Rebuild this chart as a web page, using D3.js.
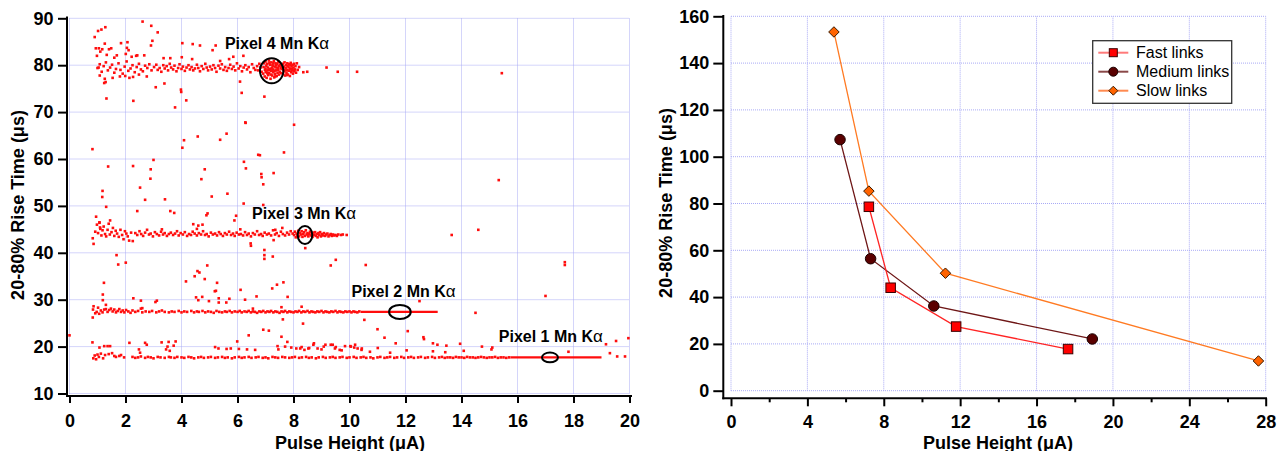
<!DOCTYPE html>
<html><head><meta charset="utf-8">
<script src="https://cdn.jsdelivr.net/npm/d3@7"></script>
<style>body{margin:0;background:#fff} svg{display:block} text{font-family:Arial,"Liberation Sans",sans-serif}</style>
</head><body><svg id="c" width="1278" height="451"></svg>
<script>
// ---------------- LEFT PANEL DATA (pulse height µA, rise time µs) ----------------
const leftXTicks = [0,2,4,6,8,10,12,14,16,18,20];
const leftYTicks = [10,20,30,40,50,60,70,80,90];

const pixel4Core = [[6.92,78.2],[6.93,79.6],[6.95,80.4],[6.97,77.6],[6.98,79.0],[7.0,80.8],[7.01,78.6],[7.03,79.9],[7.04,77.3],[7.06,80.3],[7.07,78.9],[7.09,79.5],[7.1,77.9],[7.12,81.0],[7.13,78.3],[7.15,79.2],[7.16,80.1],[7.18,77.1],[7.19,78.8],[7.21,80.6],[7.22,79.4],[7.24,77.8],[7.25,80.0],[7.27,78.5],[7.28,79.1],[7.3,80.9],[7.31,77.4],[7.33,79.7],[7.34,78.1],[7.36,80.4],[7.37,78.9],[7.39,79.5],[7.4,77.7],[7.42,80.2],[7.43,78.4],[7.45,79.0],[7.46,80.7],[7.48,78.0],[7.49,79.8],[7.51,78.6],[7.52,80.1],[7.54,79.3],[7.0,79.3],[7.08,78.1],[7.14,80.5],[7.2,78.0],[7.26,79.8],[7.32,78.7],[7.38,80.0],[7.44,79.4],[7.12,79.0],[7.28,80.4],[7.35,77.6],[7.05,78.4],[7.23,78.9],
[7.6,79.2],[7.62,80.3],[7.63,78.1],[7.65,79.7],[7.67,78.7],[7.68,80.6],[7.7,77.8],[7.72,79.4],[7.73,80.0],[7.75,78.4],[7.77,79.0],[7.78,80.4],[7.8,78.0],[7.82,79.6],[7.83,78.8],[7.85,80.2],[7.87,77.7],[7.88,79.3],[7.9,80.5],[7.92,78.5],[7.93,79.9],[7.95,78.9],[7.97,80.1],[7.98,78.2],[8.0,79.5],[8.02,80.3],[8.03,78.7],[8.05,79.1],[8.07,79.8],[8.09,78.4],[7.64,79.0],[7.71,78.9],[7.79,79.9],[7.86,79.0],[7.94,79.3],[8.01,78.9],[7.76,77.9],[7.89,80.0],[7.57,79.6],[7.56,78.3]];

const pixel4Band = [[1.0,79.4],[1.08,80.2],[1.15,78.6],[1.22,79.8],[1.3,80.6],[1.37,78.9],[1.45,79.5],[1.52,80.1],[1.6,78.4],[1.66,79.2],[1.75,80.4],[1.82,79.0],[1.9,78.2],[1.97,79.7],[2.04,80.8],[2.1,78.8],[2.18,79.3],[2.25,80.0],[2.33,78.5],[2.4,79.6],[2.48,80.3],[2.55,79.1],[2.62,78.7],[2.7,79.9],[2.78,79.4],[2.85,80.2],[2.93,78.9],
[3.02,79.6],[3.1,80.1],[3.15,79.0],[3.22,79.4],[3.28,78.6],[3.35,80.0],[3.4,79.3],[3.47,79.8],[3.52,78.9],[3.58,80.3],[3.63,79.5],[3.7,79.1],[3.75,79.9],[3.82,78.7],[3.88,79.4],[3.93,80.2],[4.0,79.2],[4.05,79.7],[4.12,78.8],[4.18,79.5],[4.25,80.0],[4.3,79.1],[4.36,79.6],[4.42,78.9],[4.48,79.3],[4.55,80.1],[4.6,79.4],[4.66,78.7],[4.72,79.8],[4.78,79.2],[4.85,80.3],[4.9,79.5],[4.95,78.9],[5.02,79.7],[5.08,79.1],[5.14,80.0],[5.2,79.4],[5.25,78.6],[5.32,79.9],[5.38,79.3],[5.44,80.2],[5.5,79.0],[5.56,79.6],[5.62,78.8],[5.68,79.4],[5.74,80.1],[5.8,79.2],[5.86,79.7],[5.92,78.9],[5.98,80.4],[6.04,79.3],[6.1,79.8],[6.16,78.7],[6.22,79.5],[6.28,80.0],[6.34,79.1],[6.4,79.6],[6.46,78.5],[6.52,80.2],[6.58,79.4],[6.64,79.0],[6.7,79.8],[6.74,78.9],[6.78,80.3],[6.82,79.5],[6.86,78.6],
[8.12,80.4],[8.15,79.0],[8.2,79.6],[8.35,78.5],[8.49,78.6],[9.18,79.5],[9.58,78.6],[10.27,78.6],[15.44,78.3]];

const pixel4Spread = [[2.61,89.3],[2.92,88.4],[3.15,87.0],[2.96,85.2],[2.91,84.2],[1.28,88.1],[1.14,87.6],[1.02,87.3],[0.9,86.0],[0.94,83.6],[1.05,83.6],[1.17,83.4],[1.41,83.4],[1.49,83.6],[1.26,84.6],[1.84,84.7],[2.07,84.9],[2.05,83.7],[2.11,83.2],[1.69,82.1],[1.33,82.2],[1.1,82.9],[0.98,82.0],[1.6,81.6],[2.01,82.4],[2.22,81.8],[2.38,82.0],[2.42,82.1],[2.67,82.1],[4.03,84.7],[4.4,84.5],[4.66,84.2],[5.22,84.2],[5.11,83.2],[4.01,81.7],[3.36,81.5],[3.6,81.5],[4.38,81.3],[5.38,80.9],[5.7,81.3],[6.21,82.0],[5.85,81.8],
[1.26,77.1],[1.29,76.4],[1.24,76.2],[1.08,77.8],[1.04,79.5],[1.54,77.3],[1.8,77.6],[1.99,77.7],[2.14,77.3],[2.27,77.5],[2.48,78.0],[2.76,77.6],[3.08,75.3],[3.39,76.1],[3.98,74.8],[6.09,76.5],[6.15,74.1],[6.96,73.3],[1.32,72.9],[2.28,72.4],[3.77,71.0],[4.17,72.5],[3.99,74.3],[6.29,67.7],[8.02,67.3]];

const pixel3Band = [[0.83,43.1],[0.86,41.9],[0.92,44.5],[0.98,46.0],[1.02,44.2],[1.07,46.4],[1.1,45.1],[1.14,43.7],[1.18,44.8],[1.22,45.6],[1.27,44.0],[1.31,43.5],[1.36,44.9],[1.4,46.2],[1.44,43.9],[1.5,44.4],[1.55,45.3],[1.6,43.6],[1.65,44.7],[1.7,44.1],[1.76,43.4],[1.82,44.9],[1.88,43.8],[1.93,42.9],[1.98,44.6],[2.03,44.1],[2.08,43.5],[2.13,42.6],[2.2,44.3],[2.26,42.5],
[2.35,44.2],[2.42,43.8],[2.5,44.6],[2.56,44.0],[2.63,43.6],[2.7,44.3],[2.77,44.9],[2.84,43.9],[2.9,44.1],[2.98,43.5],[3.05,44.4],[3.12,44.0],[3.2,43.7],[3.27,44.5],[3.34,43.9],[3.4,44.2],[3.48,43.6],[3.55,44.0],[3.62,44.3],[3.7,43.8],[3.77,44.1],[3.84,44.6],[3.9,43.7],[3.97,44.2],[4.05,43.9],[4.12,44.4],[4.2,43.6],[4.27,44.0],[4.34,43.8],[4.4,44.5],[4.47,44.1],[4.55,43.7],[4.62,44.2],[4.7,43.9],[4.77,44.6],[4.84,43.8],[4.9,44.0],[4.97,43.5],[5.05,44.3],[5.12,43.9],[5.2,44.1],[5.27,43.7],[5.34,44.4],[5.4,44.0],[5.48,43.6],[5.55,44.2],[5.62,43.9],[5.7,44.5],[5.77,43.8],[5.84,44.1],[5.9,43.6],[5.97,44.3],[6.05,43.9],[6.12,44.0],[6.2,43.7],[6.27,44.4],[6.34,43.8],[6.4,44.1],[6.48,43.5],[6.55,44.2],[6.62,43.9],[6.7,44.6],[6.77,43.8],[6.84,44.0],[6.9,43.6],[6.97,44.3],[7.05,43.9],[7.12,44.1],[7.2,43.7],[7.27,44.8],[7.34,43.9],[7.4,44.2],[7.48,43.6],[7.55,44.5],[7.62,44.0],[7.7,43.7],[7.77,44.3],[7.84,43.9],[7.9,44.6],[7.97,44.1],[3.3,45.0],[4.55,45.1],[6.1,45.0],[7.35,44.9],[7.6,45.3],
[8.02,43.8],[8.05,44.5],[8.08,43.3],[8.11,44.1],[8.14,43.7],[8.17,44.7],[8.2,43.5],[8.23,44.2],[8.26,43.9],[8.29,44.6],[8.32,43.4],[8.35,44.0],[8.38,44.4],[8.41,43.6],[8.44,44.8],[8.47,43.9],[8.5,44.2],[8.53,43.5],[8.56,44.0],[8.59,44.5],[8.62,43.7],[8.65,44.1],[8.68,43.4],[8.71,44.3],[8.74,43.8],[8.77,44.4],[8.8,43.6],[8.83,44.0],[8.86,43.3],[8.89,44.2],[8.92,43.8],[8.95,44.4],[8.98,43.5],[9.01,44.0],[9.05,43.7],[9.09,44.2],[9.13,43.6],[9.17,43.9],[9.21,44.1],[9.25,43.5],[9.29,43.8],[9.33,44.0],[9.37,43.6],[9.41,43.9],[9.45,43.7],[9.5,43.8],[9.55,43.6],[9.6,43.9],[9.7,43.8],[9.76,43.9],[9.9,43.8],[8.42,41.0]];

const pixel2Band = [[0.84,27.9],[0.86,28.6],[0.92,27.1],[0.97,27.4],[1.02,28.3],[1.06,27.0],[1.12,27.7],[1.18,27.3],[1.24,27.9],[1.3,28.0],[1.36,27.4],[1.42,27.8],[1.48,28.1],[1.54,27.5],[1.6,27.9],[1.66,27.3],[1.72,27.6],[1.78,28.0],[1.84,27.4],[1.9,27.7],[1.96,27.3],[2.02,27.8],[2.1,27.5],[2.18,27.2],[2.25,27.7],[1.3,28.9],
[2.35,27.4],[2.45,27.6],[2.55,28.1],[2.6,27.3],[2.72,27.5],[2.85,27.4],[2.95,27.6],[3.1,27.3],[3.2,27.5],[3.3,27.7],[3.4,27.4],[3.55,27.3],[3.65,27.5],[3.75,27.4],[3.9,27.6],[4.0,27.3],[4.1,27.5],[4.2,27.4],[4.35,27.6],[4.45,27.3],[4.55,27.5],[4.62,27.4],[4.75,27.6],[4.85,27.3],[4.95,27.5],[5.05,27.4],[5.15,27.2],[5.25,27.6],[5.35,27.4],[5.45,27.3],[5.55,27.5],[5.62,27.4],[5.72,27.6],[5.8,27.3],[5.9,27.5],[6.0,27.4],[6.08,27.6],[6.15,27.3],[6.25,27.5],[6.33,27.4],[6.4,27.6],[6.48,27.3],[6.55,27.5],[6.62,27.4],[6.7,27.2],[6.78,27.5],[6.85,27.4],[6.92,27.6],[7.0,27.3],[7.07,27.5],[7.14,27.4],[7.2,27.6],[7.28,27.3],[7.35,27.5],[7.42,27.4],[7.5,27.2],[7.57,27.5],[7.64,27.4],[7.7,27.6],[7.78,27.3],[7.85,27.5],[7.92,27.4],[8.0,27.3],[8.07,27.5],[8.14,27.4],[8.2,27.6],[8.28,27.3],[8.35,27.5],[8.42,27.4],[8.5,27.6],[8.57,27.3],[8.64,27.5],[8.7,27.4],[8.78,27.3],[8.85,27.5],[8.92,27.4],[9.0,27.6],[9.07,27.3],[9.14,27.5],[9.2,27.4],[9.28,27.3],[9.35,27.5],[9.42,27.4],[9.5,27.6],[9.57,27.3],[9.64,27.5],[9.7,27.4],[9.78,27.3],[9.85,27.5],[9.92,27.4],[10.0,27.5],[10.07,27.3],[10.14,27.5],[10.2,27.4],[10.28,27.3],[10.35,27.5],[2.6,28.2],[6.55,28.1],[7.57,28.4],[8.29,28.5]];

const pixel1Band = [[0.85,17.5],[0.9,18.1],[0.95,17.3],[1.0,18.3],[1.05,17.8],[1.12,18.5],[1.2,17.5],[1.27,18.2],[1.4,18.4],[1.52,18.6],[1.6,18.0],[1.66,17.8],[1.78,18.0],[1.84,18.2],[1.95,17.7],
[2.25,17.8],[2.35,17.6],[2.45,17.7],[2.55,17.9],[2.7,17.6],[2.8,17.8],[2.9,17.7],[3.0,17.5],[3.15,17.8],[3.25,17.7],[3.4,17.6],[3.55,17.8],[3.62,17.7],[3.75,17.6],[3.85,17.8],[4.0,17.7],[4.1,17.6],[4.25,17.8],[4.35,17.7],[4.45,17.5],[4.6,17.7],[4.7,17.8],[4.8,17.6],[4.95,17.7],[5.05,17.8],[5.2,17.6],[5.3,17.7],[5.45,17.8],[5.55,17.6],[5.65,17.7],[5.8,17.5],[5.9,17.7],[6.05,17.8],[6.15,17.6],[6.25,17.7],[6.4,17.8],[6.5,17.6],[6.65,17.7],[6.75,17.8],[6.9,17.6],[7.0,17.7],[7.1,17.5],[7.25,17.8],[7.35,17.7],[7.45,17.6],[7.6,17.8],[7.7,17.7],[7.85,17.6],[7.95,17.7],[8.05,17.8],[8.2,17.6],[8.3,17.7],[8.45,17.8],[8.55,17.6],[8.65,17.7],[8.8,17.5],[8.9,17.7],[9.05,17.8],[9.15,17.6],[9.3,17.7],[9.4,17.8],[9.5,17.6],[9.65,17.7],[9.75,17.8],[9.9,17.6],[10.0,17.7],[10.15,17.8],[10.25,17.6],[10.4,17.7],[10.5,17.8],[10.6,17.6],[10.75,17.7],[10.85,17.5],[11.0,17.7],[11.1,17.8],[11.25,17.6],[11.35,17.7],[11.45,17.8],[11.6,17.6],[11.7,17.7],[11.85,17.8],[11.95,17.6],[12.1,17.7],[12.2,17.8],[12.3,17.6],[12.45,17.7],[12.55,17.8],[12.7,17.6],[12.8,17.7],[12.95,17.8],[13.05,17.6],[13.2,17.7],[13.3,17.8],[13.4,17.6],[13.5,17.7],[13.6,17.7],[13.7,17.6],[13.8,17.8],[13.9,17.7],[14.0,17.7],[14.1,17.6],[14.2,17.8],[14.3,17.7],[14.4,17.7],[14.5,17.6],[14.6,17.7],[14.7,17.8],[14.8,17.7],[14.9,17.6],[15.0,17.7],[15.1,17.7],[15.2,17.8],[15.3,17.6],[15.4,17.7],[15.5,17.7],[15.6,17.6],[15.7,17.7]];

const pixel1Upper = [[0.82,20.9],[1.07,19.8],[1.24,20.1],[1.36,20.1],[1.45,20.1],[2.14,20.8],[2.7,20.8],[2.76,20.4],[2.48,19.4],[2.52,18.7],[3.29,20.9],[3.54,21.0],[3.79,21.1],[3.5,20.0],[3.72,20.2],[3.45,19.4],[3.58,19.1],[5.2,19.9],[5.32,19.6],[5.61,19.5],[5.76,19.6],[6.05,19.5],[5.99,21.1],[6.34,19.4],[6.63,19.3],[7.43,20.1],[7.46,19.4],[7.7,20.0],[7.78,21.0],[7.92,19.8],[8.1,19.6],[8.24,19.6],[8.39,19.3],[8.53,19.6],[8.71,20.4],[8.86,19.6],[9.0,19.4],[9.14,20.4],[9.33,20.4],[9.48,19.6],[9.65,19.3],[9.84,20.1],[10.05,20.0],[10.2,20.4],[10.29,19.6],[10.43,19.3],
[8.29,19.9],[8.56,19.7],[8.73,20.7],[9.08,20.0],[9.4,20.4],[9.51,19.9],[9.72,19.2],[10.03,20.1],[10.17,19.8],[10.44,19.6],[10.73,18.9],[11.01,19.7],[11.45,18.7],[12.04,19.2],[12.98,19.0],[13.42,18.8],[14.08,19.1],[14.73,20.0],[15.07,19.4],[15.1,19.8],[17.82,18.9],[19.3,18.6],[19.56,17.9],[19.84,17.9]];

const strayEvents = [[0.0,22.4],[0.83,26.2],[1.23,33.6],[1.19,31.1],[1.19,29.9],[1.68,39.5],[1.74,37.5],[2.01,37.9],[2.28,30.3],[2.55,29.8],[3.07,29.5],[3.12,29.8],[4.16,33.9],[4.47,35.0],[4.57,36.1],[4.64,35.8],[4.92,37.3],[4.83,34.4],[5.27,33.6],[5.19,31.8],[5.23,31.9],[5.33,30.3],[5.33,29.4],[4.74,30.6],[4.52,30.5],[4.6,29.9],[4.98,29.7],[5.71,30.2],[5.6,29.4],[6.11,32.1],[6.27,30.0],[6.68,30.7],[6.47,42.0],[6.48,41.5],[6.96,40.6],[6.96,39.5],[6.96,38.7],[7.26,39.2],[7.29,42.7],[7.64,33.7],[7.41,33.2],[7.24,32.4],[7.79,30.6],[7.12,23.4],[6.92,23.6],[6.4,22.4],[7.62,25.8],[7.57,22.1],[8.34,24.9],[9.33,37.3],[9.51,38.5],[10.58,37.4],[13.65,43.8],[14.6,44.9],[17.69,38.0],[17.69,37.4],[17.0,30.8],[14.5,27.2],[12.5,29.7],[10.53,25.7],[11.0,23.7],[11.25,21.9],[11.65,20.7],[12.08,23.3],[12.64,22.0],[12.66,21.6],[12.98,20.7],[13.14,20.4],[13.46,20.2],[13.95,20.6],[15.33,55.5],[19.16,20.5],[19.52,21.2],[19.96,21.8],
[2.42,48.9],[3.6,48.9],[3.74,48.5],[4.93,48.4],[4.89,48.0],[5.95,47.9],[5.89,46.9],[4.42,46.1],[4.6,45.8],[4.75,46.0],[0.95,47.7],[1.07,46.5],[1.09,45.4],[1.45,46.9],
[0.82,62.1],[6.28,67.8],[4.09,64.0],[4.03,62.4],[4.58,64.8],[5.38,64.1],[5.61,65.4],[6.74,60.9],[6.8,60.8],[7.66,61.4],[3.0,59.8],[1.38,58.4],[2.27,58.5],[2.9,57.8],[2.89,55.8],[2.52,53.9],[2.7,51.3],[1.18,53.2],[1.17,51.9],[1.31,49.8],[3.41,51.4],[4.83,57.8],[4.71,55.7],[5.08,52.0],[5.64,52.6],[6.22,50.5],[6.23,59.4],[6.3,58.0],[6.85,56.8],[6.86,56.1],[6.92,54.6],[7.29,57.0],[6.92,50.2]];

// saturated runs where the dots merge into a solid line: [xStart, xEnd, y]
const denseRuns = [[10.4,13.15,27.4],[15.75,19.0,17.7]];

// circled Mn Kα peaks and their labels
const peakNames = ["Pixel 4 Mn K", "Pixel 3 Mn K", "Pixel 2 Mn K", "Pixel 1 Mn K"];
const peakX = [7.22, 8.41, 11.80, 17.16];
const peakY = [78.8, 43.8, 27.4, 17.7];
const labelX = [7.41, 8.38, 11.93, 17.19];
const labelY = [83.4, 47.2, 30.6, 20.9];

// ---------------- RIGHT PANEL DATA ----------------
const rightXTicks = [0,4,8,12,16,20,24,28];
const rightXMinor = [2,6,10,14,18,22,26];
const rightYTicks = [0,20,40,60,80,100,120,140,160];
const seriesNames = ["Fast links","Medium links","Slow links"];
const fastX = [7.22, 8.36, 11.79, 17.65];
const fastY = [78.6, 44.0, 27.4, 17.8];
const mediumX = [5.71, 7.31, 10.62, 18.92];
const mediumY = [107.3, 56.4, 36.2, 22.1];
const slowX = [5.39, 7.22, 11.23, 27.62];
const slowY = [153.3, 85.3, 50.2, 12.7];

// ---------------- DRAWING ----------------
const svg = d3.select("#c");
const FONT = 'Arial, "Liberation Sans", sans-serif';
const gridColor = "#a9aaf5";
const TICKFS = 18;

function grid(g, xs, ys, xt, yt) {
  const [x0, x1] = [xs(xt[0]), xs(xt[xt.length-1])];
  const [y0, y1] = [ys(yt[0]), ys(yt[yt.length-1])];
  g.selectAll(".gv").data(xt).join("line")
    .attr("x1", d => xs(d)).attr("x2", d => xs(d)).attr("y1", y0).attr("y2", y1);
  g.selectAll(".gh").data(yt).join("line").attr("class","gh")
    .attr("y1", d => ys(d)).attr("y2", d => ys(d)).attr("x1", x0).attr("x2", x1);
  g.selectAll("line").attr("stroke", gridColor).attr("stroke-width", 1).attr("stroke-dasharray", "1,1");
}
function styleAxis(g) {
  g.attr("font-family", FONT).attr("font-size", TICKFS).attr("font-weight", "bold");
  g.select(".domain").remove();
  g.selectAll(".tick line").attr("stroke", "#000").attr("stroke-width", 2);
  g.selectAll(".tick text").attr("fill", "#000");
}

// ===== Left panel =====
const xL = d3.scaleLinear().domain([0,20]).range([69.5, 629.5]);
const yL = d3.scaleLinear().domain([10,90]).range([393.5, 18.3]);
const left = svg.append("g");
grid(left.append("g").attr("class","grid"), xL, yL, leftXTicks, leftYTicks);

const events = [].concat(pixel4Spread, pixel4Band, pixel4Core, pixel3Band, pixel2Band, pixel1Band, pixel1Upper, strayEvents);
left.append("g").selectAll("rect").data(events).join("rect")
  .attr("x", d => xL(d[0]) - 1.3).attr("y", d => yL(d[1]) - 1.3)
  .attr("width", 2.6).attr("height", 2.6).attr("fill", "#ff0d0d");
left.append("g").selectAll("line").data(denseRuns).join("line")
  .attr("x1", d => xL(d[0])).attr("x2", d => xL(d[1]))
  .attr("y1", d => yL(d[2])).attr("y2", d => yL(d[2]))
  .attr("stroke", "#ff0d0d").attr("stroke-width", 2.4);

const ellR = [[11.7,12.5],[7.3,9],[10.8,7],[8,4.8]];
left.append("g").selectAll("ellipse").data(peakX).join("ellipse")
  .attr("cx", (d,i) => xL(d)).attr("cy", (d,i) => yL(peakY[i]))
  .attr("rx", (d,i) => ellR[i][0]).attr("ry", (d,i) => ellR[i][1])
  .attr("fill", "none").attr("stroke", "#000").attr("stroke-width", 2);

const lbl = left.append("g").selectAll("text").data(peakNames).join("text")
  .attr("x", (d,i) => xL(labelX[i])).attr("y", (d,i) => yL(labelY[i]))
  .attr("text-anchor", "middle").attr("font-family", FONT).attr("font-size", 16)
  .attr("font-weight", "bold").attr("fill", "#000");
lbl.text(d => d).append("tspan").attr("font-weight", "normal").attr("font-size", 17).text("α");

left.append("g").attr("transform", "translate(67,0)")
  .call(d3.axisLeft(yL).tickValues(leftYTicks).tickSize(9).tickPadding(4.5)).call(styleAxis);
left.append("g").attr("transform", "translate(0,396)")
  .call(d3.axisBottom(xL).tickValues(leftXTicks).tickSize(7).tickPadding(11.5)).call(styleAxis);
left.append("line").attr("x1", 67).attr("x2", 67).attr("y1", 16.5).attr("y2", 397).attr("stroke", "#000").attr("stroke-width", 2);
left.append("line").attr("x1", 66).attr("x2", 632).attr("y1", 396).attr("y2", 396).attr("stroke", "#000").attr("stroke-width", 2);

left.append("text").attr("x", 350).attr("y", 448.5).attr("text-anchor", "middle")
  .attr("font-family", FONT).attr("font-size", 18).attr("font-weight", "bold").text("Pulse Height (μA)");
left.append("text").attr("transform", "translate(23.5,205) rotate(-90)").attr("text-anchor", "middle")
  .attr("font-family", FONT).attr("font-size", 18).attr("font-weight", "bold").text("20-80% Rise Time (μs)");

// ===== Right panel =====
const xR = d3.scaleLinear().domain([0,28]).range([731, 1265.7]);
const yR = d3.scaleLinear().domain([0,160]).range([390.7, 16.3]);
const right = svg.append("g");
grid(right.append("g").attr("class","grid"), xR, yR, rightXTicks, rightYTicks);

const series = [
  {name: seriesNames[2], xs: slowX, ys: slowY, line: "#ff7a22", fill: "#ff6300", stroke: "#3a1a00", shape: "diamond", legLine: "#ff8a50"},
  {name: seriesNames[1], xs: mediumX, ys: mediumY, line: "#6e1616", fill: "#5a0000", stroke: "#1a0000", shape: "circle", legLine: "#8a4848"},
  {name: seriesNames[0], xs: fastX, ys: fastY, line: "#ff2424", fill: "#ff0000", stroke: "#3a0000", shape: "square", legLine: "#ff7a7a"}
];
const lineGen = d3.line().x(d => xR(d[0])).y(d => yR(d[1]));
series.forEach(s => {
  right.append("path").datum(s.xs.map((x,i) => [x, s.ys[i]]))
    .attr("d", lineGen).attr("fill", "none").attr("stroke", s.line).attr("stroke-width", 1.3);
});
function marker(g, shape, cx, cy, size, fill, stroke) {
  if (shape === "square") g.append("rect").attr("x", cx - size/2).attr("y", cy - size/2).attr("width", size).attr("height", size)
    .attr("fill", fill).attr("stroke", stroke).attr("stroke-width", 1);
  else if (shape === "circle") g.append("circle").attr("cx", cx).attr("cy", cy).attr("r", size/2 + 0.5)
    .attr("fill", fill).attr("stroke", stroke).attr("stroke-width", 1);
  else g.append("path").attr("d", `M${cx},${cy - size/2 - 0.5}L${cx + size/2 + 0.5},${cy}L${cx},${cy + size/2 + 0.5}L${cx - size/2 - 0.5},${cy}Z`)
    .attr("fill", fill).attr("stroke", stroke).attr("stroke-width", 1);
}
series.forEach(s => {
  const g = right.append("g");
  s.xs.forEach((x,i) => marker(g, s.shape, xR(x), yR(s.ys[i]), 9.5, s.fill, s.stroke));
});

right.append("g").attr("transform", "translate(723.3,0)")
  .call(d3.axisLeft(yR).tickValues(rightYTicks).tickSize(10).tickPadding(4)).call(styleAxis);
right.append("g").attr("transform", "translate(0,398.3)")
  .call(d3.axisBottom(xR).tickValues(rightXTicks).tickSize(8).tickPadding(9)).call(styleAxis);
right.append("g").attr("transform", "translate(0,398.3)")
  .call(d3.axisBottom(xR).tickValues(rightXMinor).tickSize(4).tickFormat(() => "")).call(styleAxis);
right.append("line").attr("x1", 723.3).attr("x2", 723.3).attr("y1", 15).attr("y2", 399.3).attr("stroke", "#000").attr("stroke-width", 2);
right.append("line").attr("x1", 722.3).attr("x2", 1267).attr("y1", 398.3).attr("y2", 398.3).attr("stroke", "#000").attr("stroke-width", 2);

right.append("text").attr("x", 998).attr("y", 448.5).attr("text-anchor", "middle")
  .attr("font-family", FONT).attr("font-size", 18).attr("font-weight", "bold").text("Pulse Height (μA)");
right.append("text").attr("transform", "translate(671.5,203) rotate(-90)").attr("text-anchor", "middle")
  .attr("font-family", FONT).attr("font-size", 18).attr("font-weight", "bold").text("20-80% Rise Time (μs)");

// legend
const leg = right.append("g");
leg.append("rect").attr("x", 1092.7).attr("y", 40.7).attr("width", 139).attr("height", 62.6)
  .attr("fill", "#fff").attr("stroke", "#333").attr("stroke-width", 1.3);
const legOrder = [series[2], series[1], series[0]];
legOrder.forEach((s, i) => {
  const cy = 52.7 + i * 19;
  leg.append("line").attr("x1", 1098.3).attr("x2", 1128.3).attr("y1", cy).attr("y2", cy)
    .attr("stroke", s.legLine).attr("stroke-width", 2);
  marker(leg, s.shape, 1113.3, cy, 8, s.fill, s.stroke);
  leg.append("text").attr("x", 1136).attr("y", cy + 5.6).attr("font-family", FONT).attr("font-size", 16)
    .attr("fill", "#000").text(s.name);
});
</script></body></html>
